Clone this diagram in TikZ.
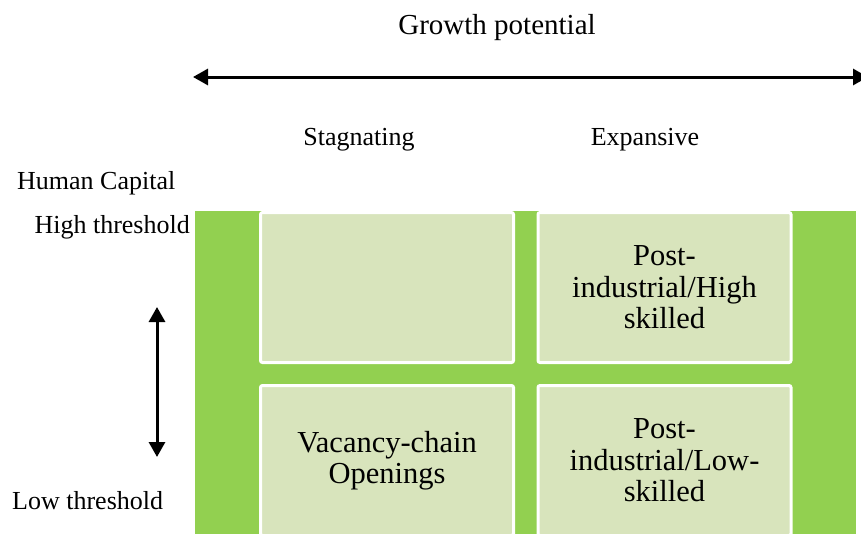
\documentclass[tikz,border=0pt]{standalone}
\usepackage{fontspec}
\setmainfont{Liberation Serif}
\usetikzlibrary{arrows.meta}
\tikzstyle{chart} = [x = 1pt, y = -1pt]
\definecolor{matrixGreen}{HTML}{92D050}
\definecolor{quadrantFill}{HTML}{D8E4BC}
\tikzstyle{quadrantStyle} = [draw=white, fill=quadrantFill, line width=3pt, rounded corners=2pt, inner sep=0pt, minimum width=253pt, minimum height=150pt, align=center, font=\fontsize{30.5}{31.5}\selectfont]
\tikzstyle{axisArrow} = [line width=3pt, {Triangle[length=15pt,width=16pt]}-{Triangle[length=15pt,width=16pt]}]
\tikzstyle{axisText} = [font=\fontsize{26}{30}\selectfont, inner sep=0pt]
\tikzstyle{titleText} = [font=\fontsize{29}{32}\selectfont, inner sep=0pt]
\newcommand{\quadrant}[4]{\node [quadrantStyle] (#1) at (#2, #3) {#4};}

\begin{document}
\begin{tikzpicture}[chart]
        \useasboundingbox (0,0) rectangle (861,533);
        % backdrop behind the four cells
        \fill [matrixGreen] (195,211) rectangle (856,540);

        \quadrant{stagnatingHigh}{387}{287.5}{}
        \quadrant{expansiveHigh}{664.5}{287.5}{Post-\\industrial/High\\skilled}
        \quadrant{stagnatingLow}{387}{460.5}{Vacancy-chain\\Openings}
        \quadrant{expansiveLow}{664.5}{460.5}{Post-\\industrial/Low-\\skilled}

        % growth axis
        \node [titleText, anchor=base] (growth) at (497,34) {Growth potential};
        \coordinate (growthLeft) at (193,77);
        \coordinate (growthRight) at (868,77);
        \draw [axisArrow] (growthLeft) -- (growthRight);
        \node [axisText, anchor=base] (stagnating) at (359,145) {Stagnating};
        \node [axisText, anchor=base] (expansive) at (645,145) {Expansive};

        % human capital axis
        \node [axisText, anchor=base west] (capital) at (17,189) {Human Capital};
        \node [axisText, anchor=base east] (high) at (190,233) {High threshold};
        \node [axisText, anchor=base west] (low) at (12,509) {Low threshold};
        \coordinate (capitalTop) at (157,307);
        \coordinate (capitalBottom) at (157,457);
        \draw [axisArrow] (capitalTop) -- (capitalBottom);
      \end{tikzpicture}
\end{document}
